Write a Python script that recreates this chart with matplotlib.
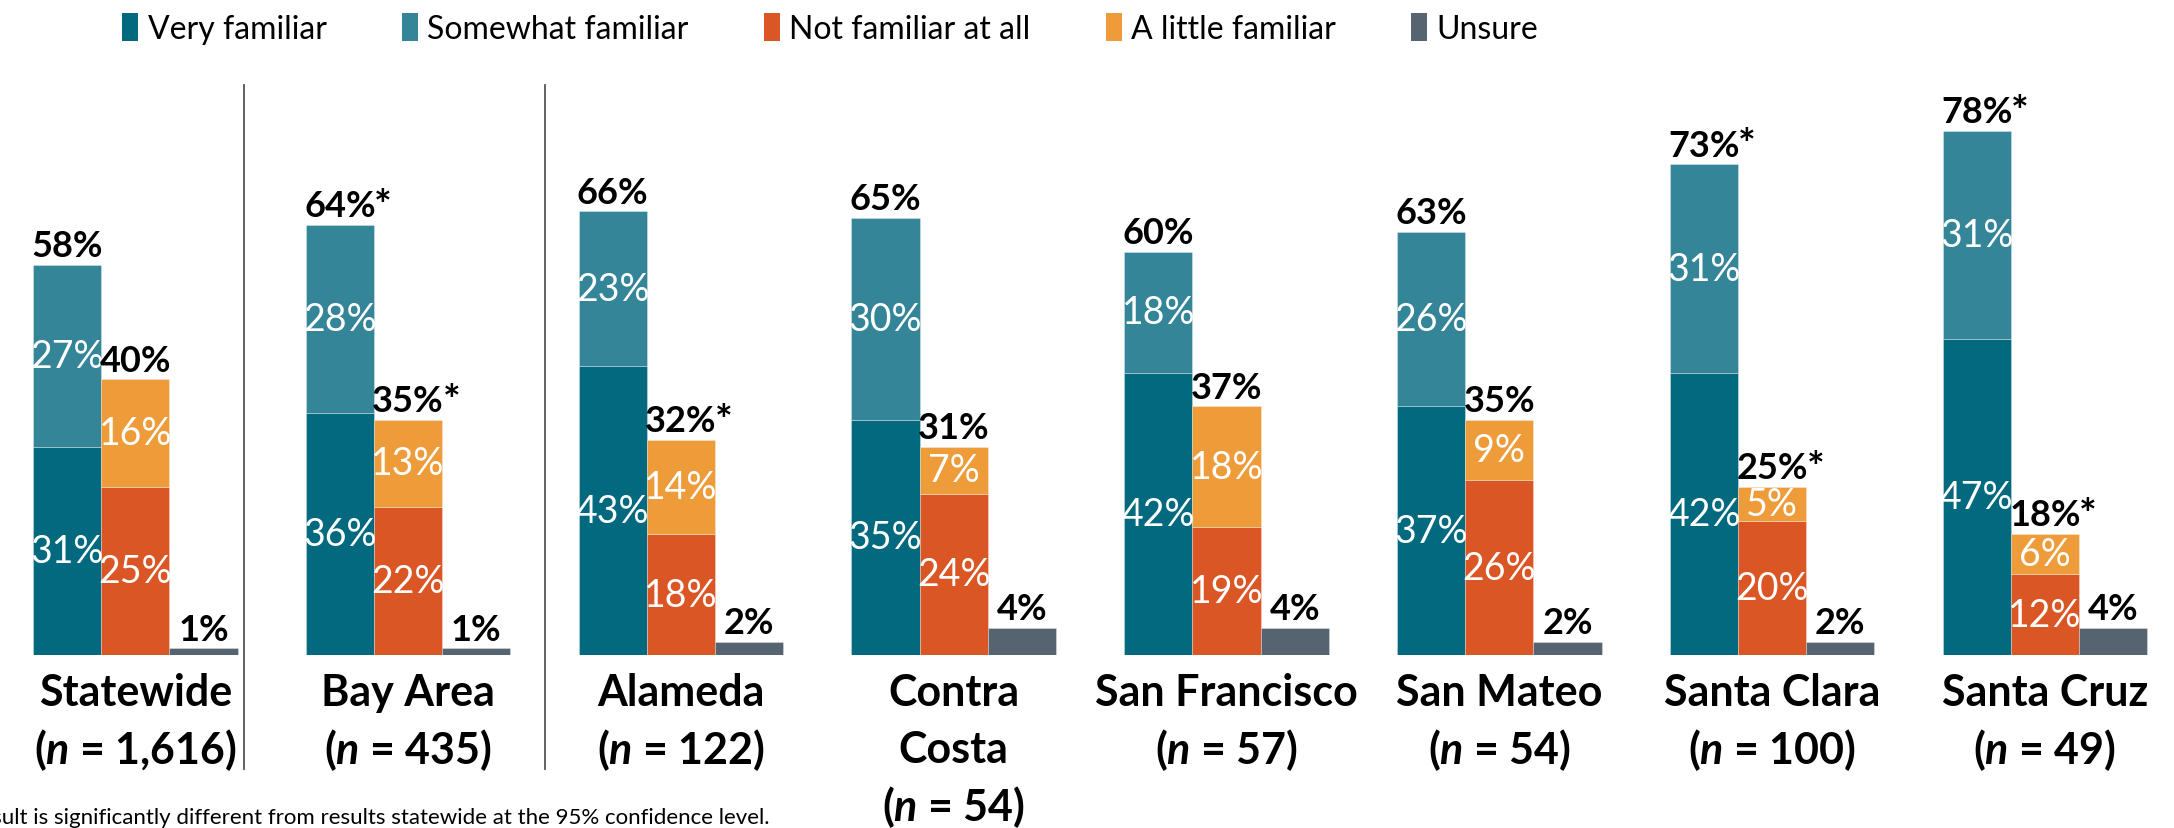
import matplotlib.pyplot as plt
from matplotlib.patches import Patch


CATEGORIES = ["Statewide", "Bay Area", "Alameda", "Contra\nCosta", "San Francisco",
	"San Mateo", "Santa Clara", "Santa Cruz"]
SAMPLE_SIZES = ["1,616", "435", "122", "54", "57", "54", "100", "49"]

VERY_FAMILIAR = [31, 36, 43, 35, 42, 37, 42, 47]
SOMEWHAT_FAMILIAR = [27, 28, 23, 30, 18, 26, 31, 31]
NOT_FAMILIAR = [25, 22, 18, 24, 19, 26, 20, 12]
LITTLE_FAMILIAR = [16, 13, 14, 7, 18, 9, 5, 6]
UNSURE = [1, 1, 2, 4, 4, 2, 2, 4]

FAMILIAR_TOTAL = [58, 64, 66, 65, 60, 63, 73, 78]
FAMILIAR_SIG = [False, True, False, False, False, False, True, True]
NOT_FAMILIAR_TOTAL = [40, 35, 32, 31, 37, 35, 25, 18]
NOT_FAMILIAR_SIG = [False, True, True, False, False, False, True, True]

LEGEND_LABELS = ["Very familiar", "Somewhat familiar", "Not familiar at all",
	"A little familiar", "Unsure"]
COLORS = {
	"very": "#02697f",
	"somewhat": "#348597",
	"not": "#da5624",
	"little": "#ee9b3a",
	"unsure": "#566371",
}

FONT = ["Lato", "DejaVu Sans"]
GROUP_PITCH = 4
BASE_Y = 1 - 656 / 829


def drawSegment(ax, x, bottom, value, color, label=True):
	ax.bar(x, value, bottom=bottom, width=1, align="edge", color=color,
		edgecolor=(1, 1, 1, 0.35), linewidth=0.6)
	if label:
		ax.text(x + 0.5, bottom + value / 2, f"{value}%", ha="center", va="center",
			color="white", fontsize=27)


def drawTotal(ax, x, top, value, significant):
	num = ax.annotate(f"{value}%", xy=(x + 0.5, top), xytext=(0, 2),
		textcoords="offset points", ha="center", va="bottom",
		fontsize=26, fontweight="bold")
	if significant:
		ax.annotate("*", xy=(1, 1), xycoords=num, xytext=(-1, 1),
			textcoords="offset points", ha="left", va="top",
			fontsize=30, fontweight="bold")


def main():
	plt.rcParams["font.family"] = FONT
	plt.rcParams["mathtext.fontset"] = "custom"
	plt.rcParams["mathtext.it"] = "Lato:italic:bold"
	plt.rcParams["mathtext.rm"] = "Lato:bold"

	fig = plt.figure(figsize=(21.74, 8.29), dpi=100)
	ax = fig.add_axes([0, BASE_Y, 1, 1 - BASE_Y])
	ax.set_xlim(-33 / 68.2, (2174 - 33) / 68.2)
	ax.set_ylim(0, 656 / 6.72)
	ax.axis("off")

	for i, name in enumerate(CATEGORIES):
		x0 = i * GROUP_PITCH
		drawSegment(ax, x0, 0, VERY_FAMILIAR[i], COLORS["very"])
		drawSegment(ax, x0, VERY_FAMILIAR[i], SOMEWHAT_FAMILIAR[i], COLORS["somewhat"])
		drawTotal(ax, x0, VERY_FAMILIAR[i] + SOMEWHAT_FAMILIAR[i], FAMILIAR_TOTAL[i], FAMILIAR_SIG[i])

		drawSegment(ax, x0 + 1, 0, NOT_FAMILIAR[i], COLORS["not"])
		drawSegment(ax, x0 + 1, NOT_FAMILIAR[i], LITTLE_FAMILIAR[i], COLORS["little"])
		drawTotal(ax, x0 + 1, NOT_FAMILIAR[i] + LITTLE_FAMILIAR[i], NOT_FAMILIAR_TOTAL[i], NOT_FAMILIAR_SIG[i])

		drawSegment(ax, x0 + 2, 0, UNSURE[i], COLORS["unsure"], label=False)
		drawTotal(ax, x0 + 2, UNSURE[i], UNSURE[i], False)

		lines = name.split("\n") + [f"($\\it{{n}}$ = {SAMPLE_SIZES[i]})"]
		for k, line in enumerate(lines):
			ax.annotate(line, xy=(x0 + 1.5, 0), xycoords=("data", "axes fraction"),
				xytext=(0, -27 - 41 * k), textcoords="offset points",
				ha="center", va="center", fontsize=31, fontweight="bold",
				annotation_clip=False)

	# separators after statewide and after bay area
	for xs in [GROUP_PITCH - 0.9, 2 * GROUP_PITCH - 0.5]:
		ax.axvline(xs, ymin=-114 / 656, ymax=(656 - 86) / 656, color="#555555",
			linewidth=1.3, clip_on=False)

	handles = [Patch(facecolor=COLORS[key]) for key in ["very", "somewhat", "not", "little", "unsure"]]
	fig.legend(handles, LEGEND_LABELS, loc="upper center", bbox_to_anchor=(0.382, 1.018),
		ncol=5, frameon=False, fontsize=23, handlelength=0.5, handleheight=1.0,
		handletextpad=0.3, columnspacing=2.35)

	fig.text(0.354, 0.013, "*Result is significantly different from results statewide at the 95% confidence level.",
		ha="right", va="center", fontsize=16)

	fig.savefig("out.png", dpi=100)
	plt.close(fig)


if __name__ == "__main__":
	main()
